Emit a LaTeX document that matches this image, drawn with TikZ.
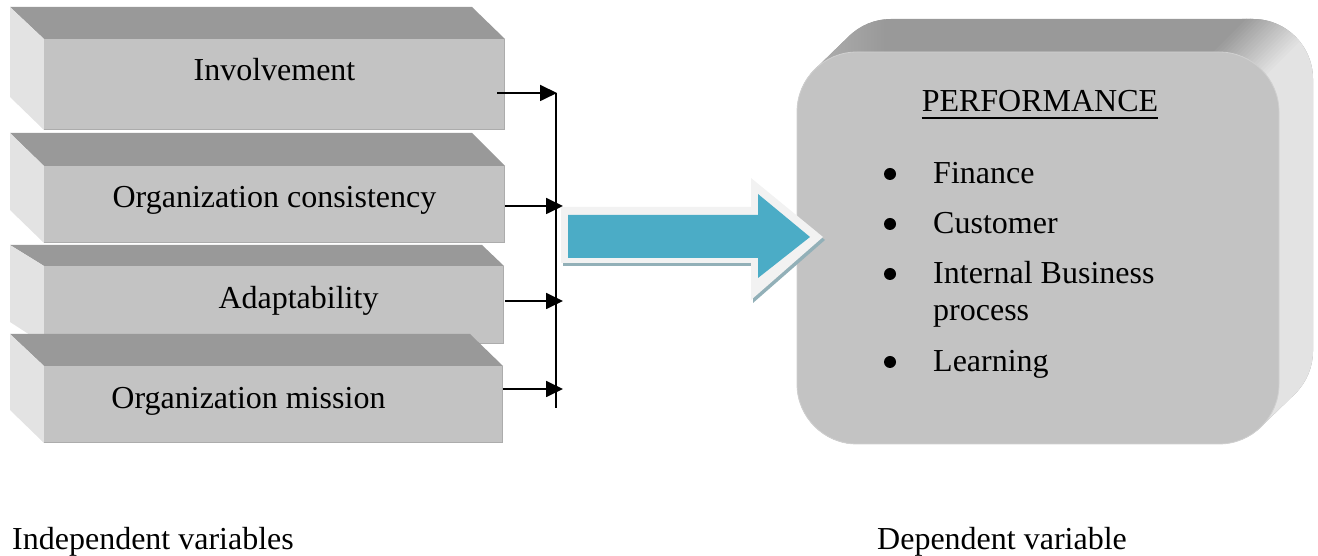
\documentclass[tikz,border=0pt]{standalone}
\usepackage{fontspec}
\setmainfont{Liberation Serif}
\usetikzlibrary{arrows.meta}
\definecolor{frontgray}{RGB}{195,195,195}
\definecolor{topgray}{RGB}{153,153,153}
\definecolor{sidegray}{RGB}{227,227,227}
\definecolor{lefttop}{RGB}{182,182,182}
\definecolor{edgegray}{RGB}{172,172,172}
\definecolor{rimgray}{RGB}{208,208,208}
\definecolor{teal5}{RGB}{75,172,198}
\definecolor{arrowrim}{RGB}{242,242,242}
\definecolor{arrowshadow}{RGB}{146,176,184}
\begin{document}
\begin{tikzpicture}[x=1pt,y=1pt,
  txt/.style={inner sep=0pt, anchor=base, font=\fontsize{32}{37}\selectfont},
  ltxt/.style={inner sep=0pt, anchor=base west, font=\fontsize{32}{37}\selectfont},
  link/.style={line width=1.8pt, -{Triangle[length=17pt,width=16pt]}},
  bus/.style={line width=1.8pt},
  topface/.style={fill=topgray},
  sideface/.style={fill=sidegray},
  frontface/.style={fill=frontgray},
  frontedge/.style={draw=edgegray, line width=1.2pt},
  bulletdot/.style={circle, fill=black, inner sep=0pt, minimum size=12pt}]
\useasboundingbox (0,0) rectangle (1318,556);

% ---- box 1
\fill[topface] (10,549) -- (472,549) -- (505,517) -- (44,517) -- cycle;
\fill[sideface] (10,549) -- (44,517) -- (44,426) -- (10,459) -- cycle;
\fill[frontface] (44,426) rectangle (505,517);
\draw[frontedge] (44,426.6) -- (504.4,426.6) -- (504.4,517);
\node[txt] (t1) at (274.5,475) {Involvement};

% ---- box 2
\fill[topface] (10,423) -- (472,423) -- (505,390) -- (44,390) -- cycle;
\fill[sideface] (10,423) -- (44,390) -- (44,313) -- (10,346) -- cycle;
\fill[frontface] (44,313) rectangle (505,390);
\draw[frontedge] (44,313.6) -- (504.4,313.6) -- (504.4,390);
\node[txt] (t2) at (274.5,348) {Organization consistency};

% ---- box 3
\fill[topface] (10,311) -- (482,311) -- (504,290) -- (44,290) -- cycle;
\fill[sideface] (10,311) -- (44,290) -- (44,212) -- (10,234) -- cycle;
\fill[frontface] (44,212) rectangle (504,290);
\draw[frontedge] (44,212.6) -- (503.4,212.6) -- (503.4,290);
\node[txt] (t3) at (298.5,247) {Adaptability};

% ---- box 4
\fill[topface] (10,222) -- (470,222) -- (503,190) -- (44,190) -- cycle;
\fill[sideface] (10,222) -- (44,190) -- (44,113) -- (10,146) -- cycle;
\fill[frontface] (44,113) rectangle (503,190);
\draw[frontedge] (44,113.6) -- (502.4,113.6) -- (502.4,190);
\node[txt] (t4) at (248.5,147) {Organization mission};

% ---- connectors
\coordinate (s1) at (497,463); \coordinate (e1) at (557,463);
\coordinate (s2) at (505,350); \coordinate (e2) at (563,350);
\coordinate (s3) at (505,255); \coordinate (e3) at (563,255);
\coordinate (s4) at (503,167); \coordinate (e4) at (563,167);
\coordinate (bt) at (556,463); \coordinate (bb) at (556,148);
\draw[bus] (bt) -- (bb);
\draw[link] (s1) -- (e1);
\draw[link] (s2) -- (e2);
\draw[link] (s3) -- (e3);
\draw[link] (s4) -- (e4);

% ---- performance box (3D extrusion)
\begin{scope}
\clip (797,172) -- (797,444) arc[start angle=180,end angle=135,radius=60pt] -- ++(34,33)
  arc[start angle=135,end angle=90,radius=60pt] -- (1253,537)
  arc[start angle=90,end angle=0,radius=60pt] -- (1313,205)
  arc[start angle=0,end angle=-45,radius=60pt] -- ++(-34,-33)
  arc[start angle=-45,end angle=-90,radius=60pt] -- (857,112)
  arc[start angle=-90,end angle=-180,radius=60pt] -- cycle;
\fill[topgray] (780,100) rectangle (1330,560);
\shade[left color=lefttop, right color=topgray] (790,400) rectangle (885,560);
\foreach \i in {0,...,19} {
  \pgfmathsetmacro\ca{705+4*\i}
  \pgfmathsetmacro\cb{\ca+4.6}
  \pgfmathtruncatemacro\pc{100-5*\i}
  \fill[topgray!\pc!sidegray] (\ca+100,100) -- (\ca+560,560) -- (\cb+560,560) -- (\cb+100,100) -- cycle;
}
\fill[sidegray] (885,100) -- (1345,560) -- (1500,560) -- (1500,100) -- cycle;
\end{scope}
\node[fill=frontgray, draw=rimgray, line width=0.8pt, rounded corners=60pt, minimum width=482pt,
  minimum height=392pt, inner sep=0pt] (perfbox) at (1038,308) {};

\node[txt] (perf) at (1040,444) {PERFORMANCE};
\draw[line width=1.6pt] ([yshift=-6pt]perf.base west) -- ([yshift=-6pt]perf.base east);
\node[bulletdot] (b1) at (890,382) {};
\node[bulletdot] (b2) at (890,332) {};
\node[bulletdot] (b3) at (890,282) {};
\node[bulletdot] (b4) at (890,194) {};
\node[ltxt] (i1) at (933,372) {Finance};
\node[ltxt] (i2) at (933,322) {Customer};
\node[ltxt] (i3) at (933,272) {Internal Business};
\node[ltxt] (i3b) at (933,235) {process};
\node[ltxt] (i4) at (933,184) {Learning};

% ---- big arrow (on top of the box)
\fill[arrowshadow] (563,346) -- (753,346) -- (753,375) -- (825,316) -- (753,253) -- (753,290) -- (563,290) -- cycle;
\fill[arrowrim] (561,349) -- (751,349) -- (751,378) -- (823,319) -- (751,256) -- (751,293) -- (561,293) -- cycle;
\fill[teal5] (568,341) -- (758,341) -- (758,362) -- (810,319) -- (758,278) -- (758,298) -- (568,298) -- cycle;

% ---- captions
\node[ltxt] (indep) at (12,6) {Independent variables};
\node[ltxt] (dep) at (877,6) {Dependent variable};
\end{tikzpicture}
\end{document}
